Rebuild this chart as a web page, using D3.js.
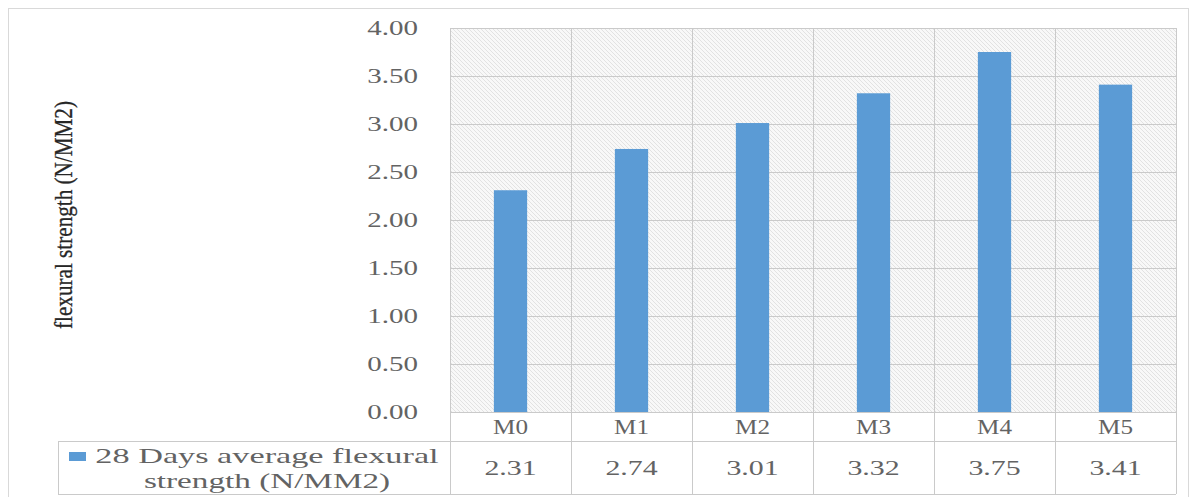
<!DOCTYPE html>
<html>
<head>
<meta charset="utf-8">
<script src="https://cdn.jsdelivr.net/npm/d3@7"></script>
<style>
  body { margin: 0; background: #fff; }
  text { font-family: "Liberation Serif", "Times New Roman", serif; }
</style>
</head>
<body>
<div id="chart"></div>
<script>
// Data
const categories = ['M0', 'M1', 'M2', 'M3', 'M4', 'M5'];
const strength28 = [2.31, 2.74, 3.01, 3.32, 3.75, 3.41];
const yTicks = [0, 0.5, 1, 1.5, 2, 2.5, 3, 3.5, 4];
const seriesLines = ['28 Days average flexural', 'strength (N/MM2)'];
const yAxisLabel = 'flexural strength (N/MM2)';

// Layout
const width = 1195;
const height = 497;
const plot = { left: 450, right: 1176, top: 28, bottom: 412 };
const table = { left: 58, rowTop: 441, bottom: 494 };

const gridColor = '#cacaca';
const textColor = '#636363';
const barColor = '#5b9bd5';
const serif = '"Liberation Serif", "Times New Roman", serif';

const svg = d3.select('#chart').append('svg')
    .attr('width', width)
    .attr('height', height);

// hatch pattern for the plot area
const defs = svg.append('defs');
defs.append('pattern')
    .attr('id', 'hatch')
    .attr('patternUnits', 'userSpaceOnUse')
    .attr('width', 4)
    .attr('height', 4)
  .call(p => {
      p.append('rect').attr('width', 4).attr('height', 4).attr('fill', '#f8f8f8');
      p.append('path').attr('d', 'M-1,-1 L5,5 M-1,3 L1,5 M3,-1 L5,1')
          .attr('stroke', '#e2e2e2').attr('stroke-width', 1);
  });

// outer frame
svg.append('rect')
    .attr('x', 8.5).attr('y', 8.5)
    .attr('width', 1180).attr('height', 500)
    .attr('fill', 'none')
    .attr('stroke', '#d9d9d9');

// Scales
const xScale = d3.scaleBand()
    .domain(categories)
    .range([plot.left, plot.right]);

const yScale = d3.scaleLinear()
    .domain([0, 4])
    .range([plot.bottom, plot.top]);

// widen glyphs a bit like the source picture
const stretch = (sel, k, ls) => sel.each(function() {
    const n = this.getComputedTextLength();
    const c = this.textContent.length;
    this.setAttribute('textLength', n * k + ls * (c - 1));
    this.setAttribute('lengthAdjust', 'spacingAndGlyphs');
});

// plot background
svg.append('rect')
    .attr('x', plot.left).attr('y', plot.top)
    .attr('width', plot.right - plot.left)
    .attr('height', plot.bottom - plot.top)
    .attr('fill', 'url(#hatch)');

// horizontal gridlines
const grid = svg.append('g')
    .attr('transform', `translate(${plot.left},0)`)
    .call(d3.axisLeft(yScale)
        .tickValues(yTicks)
        .tickSize(-(plot.right - plot.left))
        .tickFormat(''));
grid.select('.domain').remove();
grid.selectAll('line').attr('stroke', gridColor);

// vertical lines through plot and table
const vLines = categories.map(c => xScale(c)).concat([plot.right]);
svg.append('g').selectAll('line')
    .data(vLines)
    .enter().append('line')
        .attr('x1', d => d + 0.5).attr('x2', d => d + 0.5)
        .attr('y1', plot.top).attr('y2', table.bottom)
        .attr('stroke', gridColor);

// table rows
svg.append('g').selectAll('line')
    .data([table.rowTop, table.bottom])
    .enter().append('line')
        .attr('x1', table.left).attr('x2', plot.right)
        .attr('y1', d => d + 0.5).attr('y2', d => d + 0.5)
        .attr('stroke', gridColor);
svg.append('line')
    .attr('x1', table.left + 0.5).attr('x2', table.left + 0.5)
    .attr('y1', table.rowTop).attr('y2', table.bottom)
    .attr('stroke', gridColor);

// bars
const barW = xScale.bandwidth() * 0.275;
svg.append('g').selectAll('rect')
    .data(strength28)
    .enter().append('rect')
        .attr('x', (d, i) => xScale(categories[i]) + (xScale.bandwidth() - barW) / 2)
        .attr('y', d => yScale(d))
        .attr('width', barW)
        .attr('height', d => yScale(0) - yScale(d))
        .attr('fill', barColor);

// y axis labels
const yAxis = svg.append('g')
    .attr('transform', `translate(${plot.left},0)`)
    .call(d3.axisLeft(yScale)
        .tickValues(yTicks)
        .tickSize(0)
        .tickPadding(32)
        .tickFormat(d3.format('.2f')));
yAxis.select('.domain').remove();
yAxis.selectAll('text')
    .attr('font-size', 20)
    .attr('fill', textColor)
    .attr('font-family', serif)
    .call(stretch, 1.15, 3.5);

// category labels
svg.append('g').selectAll('text')
    .data(categories)
    .enter().append('text')
        .attr('x', d => xScale(d) + xScale.bandwidth() / 2)
        .attr('y', 434)
        .attr('text-anchor', 'middle')
        .attr('font-family', serif)
        .attr('font-size', 20)
        .attr('fill', textColor)
        .text(d => d)
        .call(stretch, 1.15, 3);

// value row
svg.append('g').selectAll('text')
    .data(strength28)
    .enter().append('text')
        .attr('x', (d, i) => xScale(categories[i]) + xScale.bandwidth() / 2)
        .attr('y', 475)
        .attr('text-anchor', 'middle')
        .attr('font-family', serif)
        .attr('font-size', 20)
        .attr('fill', textColor)
        .text(d => d.toFixed(2))
        .call(stretch, 1.15, 4);

// series legend cell
svg.append('rect')
    .attr('x', 69).attr('y', 452)
    .attr('width', 17).attr('height', 9)
    .attr('fill', barColor);

svg.append('g').selectAll('text')
    .data(seriesLines)
    .enter().append('text')
        .attr('x', 267)
        .attr('y', (d, i) => 463 + i * 25)
        .attr('text-anchor', 'middle')
        .attr('font-family', serif)
        .attr('font-size', 22)
        .attr('fill', textColor)
        .text(d => d)
        .call(stretch, 1.15, 3.9);

// y axis title, narrow and tall like the source
svg.append('text')
    .attr('transform', 'translate(72,215) rotate(-90)')
    .attr('text-anchor', 'middle')
    .attr('font-family', serif)
    .attr('font-size', 25)
    .attr('fill', '#262626')
    .attr('stroke', '#262626')
    .attr('stroke-width', 0.3)
    .attr('textLength', 228)
    .attr('lengthAdjust', 'spacingAndGlyphs')
    .text(yAxisLabel);
</script>
</body>
</html>
